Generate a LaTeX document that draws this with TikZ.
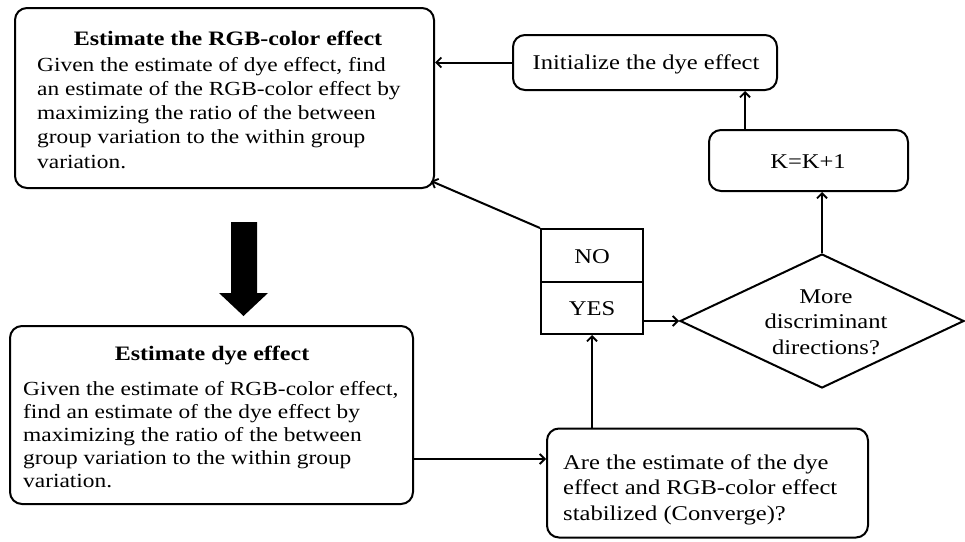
\documentclass[tikz,border=0pt]{standalone}
\usepackage{fontspec}
\setmainfont{Liberation Serif}[FakeStretch=1.17]
\usetikzlibrary{arrows.meta,shapes.geometric}
\tikzset{
  box/.style={draw,line width=2pt,rounded corners=12pt,inner sep=0pt},
  sqbox/.style={draw,line width=2pt,inner sep=0pt},
  arr/.style={line width=2pt,-{Straight Barb[length=5pt,width=10pt,line width=1.8pt]}},
  body/.style={align=left,inner sep=0pt,font=\fontsize{20}{24.2}\selectfont},
  ttl/.style={inner sep=0pt,font=\fontsize{20.5}{24}\selectfont\bfseries},
  lbl/.style={inner sep=0pt,font=\fontsize{21}{25.5}\selectfont,align=center}
}
\begin{document}
\begin{tikzpicture}[x=1pt,y=-1pt]
\useasboundingbox (0,0) rectangle (965,541);
% boxes
\node[box,minimum width=419pt,minimum height=180pt] (rgb) at (224.5,98) {};
\node[box,minimum width=264pt,minimum height=55pt] (init) at (645,62.5) {};
\node[box,minimum width=199pt,minimum height=61pt] (kbox) at (808.5,160.5) {};
\node[draw,line width=2pt,diamond,inner sep=0pt,minimum width=284pt,minimum height=134pt] (dia) at (822,321) {};
\node[sqbox,minimum width=102pt,minimum height=53pt] (no) at (592,255.5) {};
\node[sqbox,minimum width=102pt,minimum height=52pt] (yes) at (592,308) {};
\node[box,minimum width=321pt,minimum height=109pt] (conv) at (707.5,483) {};
\node[box,minimum width=403pt,minimum height=178pt] (dye) at (211.5,415) {};
% texts
\node[ttl] (rgbt) at (228,38) {Estimate the RGB-color effect};
\node[body,anchor=north west] (rgbb) at (37,57) {Given the estimate of dye effect, find\\an estimate of the RGB-color effect by\\maximizing the ratio of the between\\group variation to the within group\\variation.};
\node[lbl] (initt) at (646,64) {Initialize the dye effect};
\node[lbl] (kt) at (808,162) {K=K+1};
\node[lbl] (dit) at (826,322) {More\\discriminant\\directions?};
\node[lbl] (not) at (592,257) {NO};
\node[lbl] (yest) at (592,309) {YES};
\node[ttl] (dyet) at (212,355) {Estimate dye effect};
\node[body,anchor=north west,font=\fontsize{20}{23}\selectfont] (dyeb) at (23,381) {Given the estimate of RGB-color effect,\\find an estimate of the dye effect by\\maximizing the ratio of the between\\group variation to the within group\\variation.};
\node[body,anchor=north west,font=\fontsize{21}{25.5}\selectfont] (convt) at (563,454.5) {Are the estimate of the dye\\effect and RGB-color effect\\stabilized (Converge)?};
% big arrow
\fill (231,222) -- (257,222) -- (257,293) -- (268,293) -- (243.5,316) -- (219,293) -- (231,293) -- cycle;
% connectors
\draw[arr] (init.west) -- (init.west -| rgb.east);
\draw[arr] ([xshift=-63.5pt]kbox.north) -- ([xshift=-63.5pt]kbox.north |- init.south);
\draw[arr] (dia.north) -- (dia.north |- kbox.south);
\draw[arr] (no.north west) -- ([shift={(-4pt,8pt)}]rgb.south east);
\draw[arr] (yes.east |- dia.west) -- (dia.west);
\draw[arr] (yes.south |- conv.north) -- (yes.south);
\draw[arr] ([yshift=-44pt]dye.east) -- ([yshift=-44pt]dye.east -| conv.west);
\end{tikzpicture}
\end{document}
